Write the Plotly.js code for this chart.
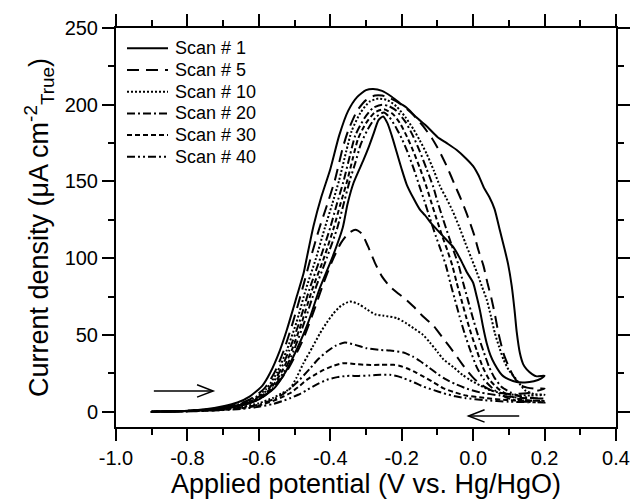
<!DOCTYPE html>
<html>
<head>
<meta charset="utf-8">
<script src="https://cdn.plot.ly/plotly-3.0.1.min.js"></script>
<style>html,body{margin:0;padding:0;background:#fff;}#chart{width:632px;height:499px;}</style>
</head>
<body>
<div id="chart"></div>
<script>
// ---------- DATA ----------
const scanNames = ['Scan # 1', 'Scan # 5', 'Scan # 10', 'Scan # 20', 'Scan # 30', 'Scan # 40'];

// Scan 1
const scan1FwdV = [-0.9,-0.85,-0.8,-0.75,-0.7,-0.66,-0.625,-0.59,-0.569,-0.541,-0.522,-0.504,-0.494,-0.475,-0.466,-0.447,-0.425,-0.40,-0.375,-0.35,-0.325,-0.30,-0.28,-0.255,-0.23,-0.205,-0.186,-0.16,-0.13,-0.10,-0.074,-0.046,-0.02,0.0,0.015,0.03,0.045,0.06,0.075,0.088,0.098,0.108,0.116,0.122,0.131,0.14,0.15,0.165,0.178,0.2];
const scan1FwdI = [0,0.2,0.6,1.5,3.5,6,10,17,25,40,53,67,75,90,100,121,140,158,180,196,205,209.5,210.3,209,205.5,201,198,192,186,179,175,170.5,165,160,154,146,140,132,118,106,96,82,66,52,38,31,27.5,24.5,23,23.5];
const scan1RevV = [0.19,0.17,0.145,0.122,0.1,0.085,0.075,0.06,0.048,0.038,0.028,0.019,0.01,0.0,-0.018,-0.035,-0.055,-0.075,-0.095,-0.115,-0.135,-0.15,-0.167,-0.186,-0.2,-0.214,-0.228,-0.24,-0.252,-0.265,-0.279,-0.293,-0.307,-0.335,-0.352,-0.365,-0.395,-0.43,-0.462,-0.495,-0.525,-0.558,-0.6,-0.64,-0.7,-0.8,-0.9];
const scan1RevI = [21.5,19.8,19,19.3,21,23,25.5,31,37,44.6,55,66,75,84,91,99,107,112,117,122,128,132,139,148,158,169,180,188,192.4,190,181,172,164,149,135,120,100,80,58,40,26,15,8,4.5,2,0.5,0];

// Scan 5
const scan5FwdV = [-0.9,-0.85,-0.8,-0.75,-0.7,-0.65,-0.6,-0.56,-0.52,-0.48,-0.45,-0.42,-0.395,-0.37,-0.35,-0.33,-0.312,-0.295,-0.275,-0.255,-0.233,-0.21,-0.19,-0.167,-0.14,-0.111,-0.088,-0.065,-0.04,-0.018,0.005,0.03,0.06,0.1,0.15,0.2];
const scan5FwdI = [0,0.1,0.4,1,2,4,8,15,27,45,63,83,98,110,116,118.5,116,108,97,88,81.5,77,73.5,68.5,62,56,49,42,34,27,21,16.5,13,11.5,12,15];
const scan5RevV = [0.17,0.14,0.125,0.113,0.1,0.085,0.071,0.062,0.052,0.04,0.029,0.015,0.003,-0.018,-0.035,-0.05,-0.074,-0.095,-0.115,-0.14,-0.17,-0.2,-0.23,-0.255,-0.275,-0.3,-0.325,-0.35,-0.365,-0.387,-0.41,-0.43,-0.455,-0.478,-0.505,-0.53,-0.555,-0.585,-0.625,-0.665,-0.72,-0.8,-0.9];
const scan5RevI = [15,16.5,19,23,29,38,51,62,73,84,95,105,115,129,139,147,160,170,178,186,194,200,204,206,206,203,196,183,172,151,134,120,100,80,58,40,26,15,8,4.5,2,0.5,0];

// Scan 10
const scan10FwdV = [-0.9,-0.85,-0.8,-0.75,-0.7,-0.65,-0.6,-0.56,-0.535,-0.513,-0.495,-0.475,-0.45,-0.429,-0.41,-0.391,-0.37,-0.345,-0.32,-0.3,-0.275,-0.25,-0.214,-0.19,-0.167,-0.14,-0.121,-0.1,-0.083,-0.055,-0.03,-0.009,0.02,0.047,0.08,0.113,0.16,0.2];
const scan10FwdI = [0,0.1,0.3,0.8,1.5,3,5.5,9,12,15,22,31.6,42,51,58,64,69,71.8,70,67,63.5,62.5,61,58,54.4,50,45,39,34,29,24,20.7,17,14,12,11,10.5,11];
const scan10RevV = [0.17,0.145,0.122,0.1,0.085,0.073,0.061,0.05,0.038,0.024,0.01,-0.005,-0.022,-0.04,-0.058,-0.075,-0.093,-0.11,-0.13,-0.15,-0.167,-0.19,-0.215,-0.24,-0.265,-0.29,-0.315,-0.34,-0.355,-0.375,-0.395,-0.415,-0.44,-0.468,-0.495,-0.522,-0.548,-0.578,-0.618,-0.66,-0.72,-0.8,-0.9];
const scan10RevI = [11.5,14,20.7,27,34,42,51,62,73,82,91,100,110,121,131,139,147,157,168,177,184,192,199,203,204,202,195,183,170,151,135,120,100,80,58,40,26,15,8,4.5,2,0.5,0];

// Scan 20
const scan20FwdV = [-0.9,-0.85,-0.8,-0.75,-0.7,-0.65,-0.6,-0.56,-0.535,-0.513,-0.485,-0.457,-0.435,-0.41,-0.385,-0.359,-0.33,-0.298,-0.265,-0.233,-0.195,-0.17,-0.149,-0.125,-0.102,-0.08,-0.05,-0.018,0.02,0.075,0.13,0.2];
const scan20FwdI = [0,0.1,0.3,0.7,1.3,2.5,4.5,8,11,15,21,28,34,39,43,45,43.5,41.3,40.3,39.8,38.5,36,33,29,25,21.5,18,15,12.5,10.5,9,8.5];
const scan20RevV = [0.16,0.13,0.105,0.08,0.06,0.045,0.028,0.012,-0.002,-0.015,-0.028,-0.04,-0.055,-0.068,-0.085,-0.1,-0.111,-0.13,-0.15,-0.167,-0.19,-0.215,-0.235,-0.255,-0.28,-0.305,-0.33,-0.345,-0.362,-0.382,-0.40,-0.428,-0.458,-0.487,-0.515,-0.542,-0.572,-0.612,-0.655,-0.715,-0.8,-0.9];
const scan20RevI = [9,10,12.5,16,22,29,40,51,62,73,84,95,105,114,126,137,146,158,170,179,189,196,199,200,198,191,180,167,151,135,120,100,80,58,40,26,15,8,4.5,2,0.5,0];

// Scan 30
const scan30FwdV = [-0.9,-0.85,-0.8,-0.75,-0.7,-0.65,-0.6,-0.56,-0.535,-0.513,-0.49,-0.466,-0.44,-0.419,-0.39,-0.364,-0.33,-0.298,-0.26,-0.223,-0.205,-0.186,-0.16,-0.139,-0.11,-0.083,-0.05,-0.02,0.03,0.1,0.2];
const scan30FwdI = [0,0.1,0.25,0.6,1.2,2.2,4,7,9.5,12,16,20.7,24.5,27.2,30,31.6,31,30.5,30.5,30.5,29.8,28.3,25.5,22.8,19,15.2,12.5,10.5,9,7.5,7];
const scan30RevV = [0.16,0.13,0.1,0.07,0.045,0.027,0.01,-0.006,-0.02,-0.033,-0.046,-0.058,-0.072,-0.086,-0.103,-0.118,-0.13,-0.148,-0.168,-0.185,-0.205,-0.225,-0.25,-0.275,-0.3,-0.322,-0.337,-0.352,-0.372,-0.39,-0.418,-0.45,-0.48,-0.508,-0.536,-0.567,-0.607,-0.65,-0.71,-0.8,-0.9];
const scan30RevI = [7.3,8.2,10.5,15,21,29,40,51,62,73,84,95,105,114,126,137,146,158,170,179,188,194,197,195,188,178,165,151,135,120,100,80,58,40,26,15,8,4.5,2,0.5,0];

// Scan 40
const scan40FwdV = [-0.9,-0.85,-0.8,-0.75,-0.7,-0.65,-0.6,-0.56,-0.535,-0.513,-0.49,-0.466,-0.44,-0.41,-0.38,-0.354,-0.32,-0.29,-0.26,-0.233,-0.21,-0.195,-0.165,-0.139,-0.11,-0.083,-0.05,-0.02,0.03,0.1,0.2];
const scan40FwdI = [0,0.1,0.2,0.5,1,1.8,3.2,5,6.8,8.7,11,14,17.5,20.7,22.5,23.3,23.3,23.6,24,24,23,21.8,19,16.3,14,12,10,8.8,7.5,6.5,6];
const scan40RevV = [0.16,0.12,0.09,0.06,0.03,0.01,-0.008,-0.024,-0.038,-0.051,-0.064,-0.076,-0.09,-0.104,-0.121,-0.136,-0.149,-0.166,-0.185,-0.2,-0.218,-0.235,-0.25,-0.272,-0.295,-0.315,-0.33,-0.345,-0.363,-0.38,-0.41,-0.442,-0.473,-0.502,-0.53,-0.562,-0.603,-0.645,-0.705,-0.8,-0.9];
const scan40RevI = [6.3,7.2,9.5,14,21,29,40,51,62,73,84,95,105,114,126,137,146,158,170,178,186,192,195,192,184,174,162,151,135,120,100,80,58,40,26,15,8,4.5,2,0.5,0];

// Axis ticks
const xTickVals = [-1.0,-0.8,-0.6,-0.4,-0.2,0.0,0.2,0.4];
const xTickText = ['-1.0','-0.8','-0.6','-0.4','-0.2','0.0','0.2','0.4'];
const yTickVals = [0,50,100,150,200,250];
const yTickText = ['0','50','100','150','200','250'];

// Scan-direction arrows: [tailV, tipV, current]
const arrowForward = [-0.894, -0.728, 13.5];
const arrowReverse = [0.129, -0.013, -2.8];

// ---------- STYLE ----------
const dashes = ['solid', '12px,7px', '2px,2px', '8px,3px,2px,3px', '5px,3px', '8px,3px,2px,3px,2px,3px'];
const FONT = 'Liberation Sans, Arial, Helvetica, sans-serif';

// plot area in pixels (for the hand-placed legend)
const PLOT = {l: 116, r: 616, t: 28, b: 427};
const px2x = px => (px - PLOT.l) / (PLOT.r - PLOT.l);
const px2y = py => (PLOT.b - py) / (PLOT.b - PLOT.t);

const scansV = [
  scan1FwdV.concat(scan1RevV), scan5FwdV.concat(scan5RevV), scan10FwdV.concat(scan10RevV),
  scan20FwdV.concat(scan20RevV), scan30FwdV.concat(scan30RevV), scan40FwdV.concat(scan40RevV)
];
const scansI = [
  scan1FwdI.concat(scan1RevI), scan5FwdI.concat(scan5RevI), scan10FwdI.concat(scan10RevI),
  scan20FwdI.concat(scan20RevI), scan30FwdI.concat(scan30RevI), scan40FwdI.concat(scan40RevI)
];

const traces = scanNames.map((name, k) => ({
  type: 'scatter', mode: 'lines', name: name, showlegend: false,
  x: scansV[k], y: scansI[k],
  line: {color: '#000', width: 2, dash: dashes[k], shape: 'spline', smoothing: 0.6}
}));

function arrowShapes(a) {
  const dir = Math.sign(a[1] - a[0]);
  const headL = 0.045, headW = 4;
  return [
    {type: 'line', xref: 'x', yref: 'y', x0: a[0], y0: a[2], x1: a[1], y1: a[2], line: {color: '#000', width: 1.5}},
    {type: 'path', xref: 'x', yref: 'y',
     path: `M${a[1] - dir * headL},${a[2] + headW} L${a[1]},${a[2]} L${a[1] - dir * headL},${a[2] - headW}`,
     line: {color: '#000', width: 1.5}}
  ];
}

// legend drawn as line samples + text
const legendShapes = [], legendAnn = [];
scanNames.forEach((name, k) => {
  const yy = px2y(48.3 + 21.7 * k);
  legendShapes.push({type: 'line', xref: 'paper', yref: 'paper', x0: px2x(127), x1: px2x(168), y0: yy, y1: yy,
                     line: {color: '#000', width: 2, dash: dashes[k]}});
  legendAnn.push({xref: 'paper', yref: 'paper', x: px2x(173), y: yy, xanchor: 'left', yanchor: 'middle',
                  text: name, showarrow: false, font: {family: FONT, size: 18, color: '#000'}});
});

const layout = {
  width: 632, height: 499,
  margin: {l: PLOT.l, r: 632 - PLOT.r, t: PLOT.t, b: 499 - PLOT.b},
  paper_bgcolor: '#fff', plot_bgcolor: '#fff',
  font: {family: FONT, color: '#000', size: 20},
  showlegend: false,
  xaxis: {
    range: [-1.0, 0.4], tickmode: 'array', tickvals: xTickVals, ticktext: xTickText,
    ticks: 'outside', ticklen: 12, tickwidth: 2, tickcolor: '#000',
    showline: true, linewidth: 2, linecolor: '#000', mirror: 'ticks',
    showgrid: false, zeroline: false,
    minor: {tickmode: 'linear', tick0: -1.0, dtick: 0.1, ticks: 'outside', ticklen: 6, tickwidth: 2, tickcolor: '#000', showgrid: false},
    tickfont: {family: FONT, size: 20, color: '#000'},
    title: {text: 'Applied potential (V vs. Hg/HgO)', font: {family: FONT, size: 27, color: '#000'}, standoff: 4}
  },
  yaxis: {
    range: [-10, 250], tickmode: 'array', tickvals: yTickVals, ticktext: yTickText,
    ticks: 'outside', ticklen: 12, tickwidth: 2, tickcolor: '#000',
    showline: true, linewidth: 2, linecolor: '#000', mirror: 'ticks',
    showgrid: false, zeroline: false,
    minor: {tickmode: 'linear', tick0: 0, dtick: 25, ticks: 'outside', ticklen: 6, tickwidth: 2, tickcolor: '#000', showgrid: false},
    tickfont: {family: FONT, size: 20, color: '#000'},
    title: {text: 'Current density (μA cm<sup>-2</sup><sub>True</sub>)', font: {family: FONT, size: 27, color: '#000'}, standoff: 8}
  },
  shapes: arrowShapes(arrowForward).concat(arrowShapes(arrowReverse), legendShapes),
  annotations: legendAnn
};

Plotly.newPlot('chart', traces, layout, {displayModeBar: false, staticPlot: true});
</script>
</body>
</html>
